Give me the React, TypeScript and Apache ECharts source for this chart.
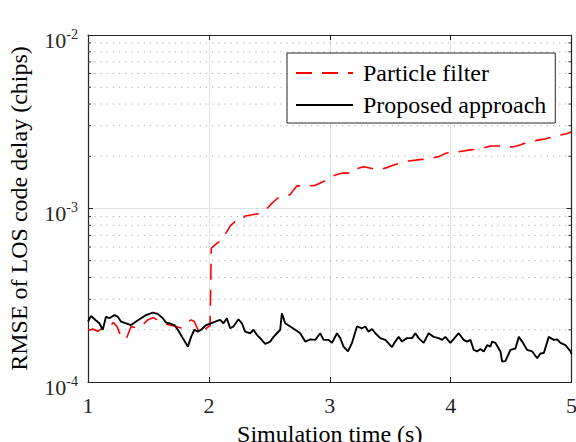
import React, { useEffect, useRef } from "react";
import * as echarts from "echarts";

// ---- data ----
const xTicks = [1, 2, 3, 4, 5];
const yMin = 1e-4;
const yMax = 1e-2;
const minorGrid = [
  2e-4, 3e-4, 4e-4, 5e-4, 6e-4, 7e-4, 8e-4, 9e-4,
  2e-3, 3e-3, 4e-3, 5e-3, 6e-3, 7e-3, 8e-3, 9e-3,
];

const pfTime = [
  1.0, 1.04, 1.08, 1.12, 1.19, 1.21, 1.24, 1.26, 1.29, 1.315, 1.356, 1.4, 1.44, 1.466, 1.494,
  1.54, 1.59, 1.632, 1.673, 1.729, 1.77, 1.812, 1.853, 1.88, 1.922, 1.963, 2.0, 2.01, 2.02,
  2.066, 2.107, 2.149, 2.18, 2.217, 2.26, 2.3, 2.36, 2.424, 2.47, 2.521, 2.57, 2.617, 2.67,
  2.728, 2.77, 2.811, 2.88, 2.949, 3.0, 3.046, 3.11, 3.184, 3.23, 3.28, 3.35, 3.418, 3.47,
  3.528, 3.59, 3.653, 3.71, 3.764, 3.83, 3.901, 3.96, 4.012, 4.08, 4.149, 4.2, 4.26, 4.33,
  4.398, 4.46, 4.522, 4.58, 4.646, 4.71, 4.771, 4.84, 4.909, 4.96, 5.0,
];
const pfRmse = [
  1.98e-4, 2.02e-4, 1.96e-4, 2.05e-4, 2.13e-4, 2.2e-4, 2.09e-4, 1.92e-4, 1.85e-4, 1.76e-4,
  2.09e-4, 2.05e-4, 2.13e-4, 2.18e-4, 2.28e-4, 2.35e-4, 2.25e-4, 2.18e-4, 2.13e-4, 2.09e-4,
  2.05e-4, 2.18e-4, 2.28e-4, 2.23e-4, 1.91e-4, 2.0e-4, 2.09e-4, 2.1e-4, 5.9e-4,
  6.3e-4, 6.58e-4, 7.35e-4, 8.0e-4, 8.39e-4, 8.4e-4, 9.05e-4, 9.2e-4, 9.38e-4, 9.8e-4,
  1.07e-3, 1.15e-3, 1.17e-3, 1.2e-3, 1.35e-3, 1.35e-3, 1.35e-3, 1.36e-3, 1.43e-3, 1.5e-3,
  1.56e-3, 1.6e-3, 1.6e-3, 1.7e-3, 1.74e-3, 1.7e-3, 1.68e-3, 1.72e-3, 1.78e-3, 1.83e-3,
  1.88e-3, 1.9e-3, 1.92e-3, 1.94e-3, 1.99e-3, 2.08e-3, 2.12e-3, 2.13e-3, 2.17e-3, 2.19e-3,
  2.22e-3, 2.29e-3, 2.29e-3, 2.26e-3, 2.27e-3, 2.33e-3, 2.43e-3, 2.47e-3, 2.51e-3, 2.58e-3,
  2.65e-3, 2.7e-3, 2.77e-3,
];

const propTime = [
  1.0, 1.025, 1.066, 1.094, 1.122, 1.149, 1.176, 1.218, 1.246, 1.273, 1.315, 1.356, 1.398,
  1.439, 1.48, 1.536, 1.577, 1.619, 1.646, 1.673, 1.715, 1.743, 1.784, 1.826, 1.853, 1.88,
  1.908, 1.936, 1.977, 2.018, 2.052, 2.093, 2.121, 2.149, 2.176, 2.203, 2.245, 2.273, 2.3,
  2.342, 2.369, 2.397, 2.424, 2.466, 2.507, 2.535, 2.563, 2.59, 2.604, 2.631, 2.673, 2.714,
  2.756, 2.797, 2.839, 2.88, 2.921, 2.949, 2.99, 3.018, 3.06, 3.087, 3.114, 3.151, 3.184,
  3.225, 3.267, 3.294, 3.321, 3.349, 3.377, 3.418, 3.46, 3.515, 3.542, 3.57, 3.598, 3.639,
  3.681, 3.708, 3.735, 3.777, 3.818, 3.86, 3.901, 3.929, 3.956, 3.998, 4.067, 4.108, 4.136,
  4.164, 4.191, 4.219, 4.246, 4.274, 4.302, 4.329, 4.343, 4.371, 4.412, 4.426, 4.453, 4.495,
  4.536, 4.564, 4.592, 4.633, 4.675, 4.716, 4.743, 4.771, 4.812, 4.854, 4.881, 4.909, 4.95,
  4.992, 5.0,
];
const propRmse = [
  2.23e-4, 2.4e-4, 2.26e-4, 2.18e-4, 2.0e-4, 2.38e-4, 2.33e-4, 2.43e-4, 2.38e-4, 2.23e-4,
  2.18e-4, 2.13e-4, 2.23e-4, 2.33e-4, 2.43e-4, 2.51e-4, 2.47e-4, 2.33e-4, 2.2e-4, 2.18e-4,
  2.13e-4, 2.0e-4, 1.79e-4, 1.6e-4, 1.82e-4, 2.0e-4, 1.95e-4, 2.0e-4, 2.13e-4, 2.18e-4,
  2.23e-4, 2.28e-4, 2.18e-4, 2.33e-4, 2.04e-4, 2.09e-4, 2.3e-4, 2.18e-4, 1.95e-4, 1.91e-4,
  2.0e-4, 1.87e-4, 1.79e-4, 1.66e-4, 1.71e-4, 1.82e-4, 1.91e-4, 2.0e-4, 2.49e-4, 2.18e-4,
  2.09e-4, 2.0e-4, 1.91e-4, 1.71e-4, 1.76e-4, 1.75e-4, 1.91e-4, 1.75e-4, 1.75e-4, 1.68e-4,
  1.91e-4, 1.79e-4, 1.6e-4, 1.5e-4, 1.68e-4, 2.09e-4, 2.04e-4, 2.09e-4, 1.95e-4, 2.02e-4,
  1.91e-4, 1.79e-4, 1.75e-4, 1.59e-4, 1.71e-4, 1.82e-4, 1.71e-4, 1.79e-4, 1.79e-4, 1.91e-4,
  1.79e-4, 1.68e-4, 1.91e-4, 1.82e-4, 1.79e-4, 1.75e-4, 1.82e-4, 1.68e-4, 1.91e-4, 1.75e-4,
  1.71e-4, 1.75e-4, 1.53e-4, 1.5e-4, 1.55e-4, 1.5e-4, 1.63e-4, 1.6e-4, 1.71e-4, 1.68e-4,
  1.5e-4, 1.31e-4, 1.32e-4, 1.53e-4, 1.56e-4, 1.82e-4, 1.71e-4, 1.53e-4, 1.5e-4, 1.37e-4,
  1.46e-4, 1.47e-4, 1.82e-4, 1.75e-4, 1.76e-4, 1.68e-4, 1.63e-4, 1.5e-4, 1.45e-4,
];

const seriesNames = ["Particle filter", "Proposed approach"];
const xTitle = "Simulation time (s)";
const yTitle = "RMSE of LOS code delay (chips)";

export default function App() {
  const ref = useRef<HTMLDivElement>(null);

  useEffect(() => {
    if (!ref.current) return;
    const chart = echarts.init(ref.current, null, { renderer: "svg" });
    const font = "Liberation Serif, Times New Roman, serif";
    const axisColor = "#262626";
    const xMin = xTicks[0];
    const xMax = xTicks[xTicks.length - 1];

    const baseX = {
      type: "value" as const,
      min: xMin,
      max: xMax,
      interval: 1,
      axisLine: { show: true, onZero: false, lineStyle: { color: axisColor, width: 1.2 } },
      axisTick: { show: true, inside: true, length: 5, lineStyle: { color: axisColor, width: 1 } },
    };
    const baseY = {
      type: "log" as const,
      logBase: 10,
      min: yMin,
      max: yMax,
      axisLine: { show: true, onZero: false, lineStyle: { color: axisColor, width: 1.2 } },
      axisTick: { show: true, inside: true, length: 5, lineStyle: { color: axisColor, width: 1 } },
    };

    const option: any = {
      animation: false,
      backgroundColor: "#ffffff",
      textStyle: { fontFamily: font },
      grid: {
        left: 88,
        top: 35,
        right: 4.5,
        bottom: 60,
        containLabel: false,
        outerBoundsMode: "none",
      },
      legend: {
        show: true,
        orient: "vertical",
        left: 287,
        top: 53,
        padding: [8, 9, 6, 8],
        itemGap: 8,
        itemWidth: 57,
        itemHeight: 22,
        backgroundColor: "#ffffff",
        borderColor: axisColor,
        borderWidth: 1,
        borderRadius: 0,
        selectedMode: false,
        data: seriesNames,
        itemStyle: { opacity: 0 },
        textStyle: { fontFamily: font, fontSize: 24, color: "#000", padding: [0, 0, 0, 5] },
      },
      xAxis: [
        {
          ...baseX,
          position: "bottom",
          name: xTitle,
          nameLocation: "middle",
          nameGap: 40,
          nameTextStyle: { fontFamily: font, fontSize: 24, color: "#000" },
          axisLabel: { fontFamily: font, fontSize: 22, color: axisColor, margin: 12 },
          splitLine: { show: true, lineStyle: { color: "#e3e3e3", width: 1.2 } },
        },
        {
          ...baseX,
          position: "top",
          axisLabel: { show: false },
          splitLine: { show: false },
        },
      ],
      yAxis: [
        {
          ...baseY,
          position: "left",
          name: yTitle,
          nameLocation: "middle",
          nameGap: 57,
          nameRotate: 90,
          nameTextStyle: { fontFamily: font, fontSize: 24, color: "#000" },
          axisLabel: {
            margin: 10,
            padding: [10, 0, 0, 0],
            formatter: (v: number) => `{b|10}{s|${Math.round(Math.log10(v))}}`,
            rich: {
              b: { fontFamily: font, fontSize: 22, color: axisColor, lineHeight: 26 },
              s: { fontFamily: font, fontSize: 14, color: axisColor, lineHeight: 14, verticalAlign: "top" },
            },
          },
          splitLine: { show: true, lineStyle: { color: "#e3e3e3", width: 1.2 } },
        },
        {
          ...baseY,
          position: "right",
          axisLabel: { show: false },
          splitLine: { show: false },
        },
      ],
      series: [
        {
          type: "custom",
          name: "minor",
          xAxisIndex: 0,
          yAxisIndex: 0,
          silent: true,
          z: 1,
          data: minorGrid.map((v) => [xMin, v]),
          renderItem: (_params: any, api: any) => {
            const v = api.value(1);
            const p1 = api.coord([xMin, v]);
            const p2 = api.coord([xMax, v]);
            return {
              type: "group",
              children: [
                {
                  type: "line",
                  shape: { x1: p1[0], y1: p1[1], x2: p2[0], y2: p2[1] },
                  style: { stroke: "#a8a8a8", lineWidth: 1, lineDash: [1.2, 5] },
                },
                {
                  type: "line",
                  shape: { x1: p1[0], y1: p1[1], x2: p1[0] + 3, y2: p1[1] },
                  style: { stroke: axisColor, lineWidth: 1 },
                },
                {
                  type: "line",
                  shape: { x1: p2[0] - 3, y1: p2[1], x2: p2[0], y2: p2[1] },
                  style: { stroke: axisColor, lineWidth: 1 },
                },
              ],
            };
          },
        },
        {
          type: "line",
          name: seriesNames[0],
          xAxisIndex: 0,
          yAxisIndex: 0,
          z: 3,
          symbol: "none",
          data: pfTime.map((t, i) => [t, pfRmse[i]]),
          lineStyle: { color: "#ff0000", width: 1.6, type: [16, 10] },
          itemStyle: { color: "#ff0000" },
        },
        {
          type: "line",
          name: seriesNames[1],
          xAxisIndex: 0,
          yAxisIndex: 0,
          z: 4,
          symbol: "none",
          data: propTime.map((t, i) => [t, propRmse[i]]),
          lineStyle: { color: "#000000", width: 1.9 },
          itemStyle: { color: "#000000" },
        },
      ],
    };

    chart.setOption(option);
    return () => chart.dispose();
  }, []);

  return (
    <div
      ref={ref}
      style={{ position: "fixed", left: 0, top: 0, width: 576, height: 442, background: "#fff" }}
    />
  );
}
